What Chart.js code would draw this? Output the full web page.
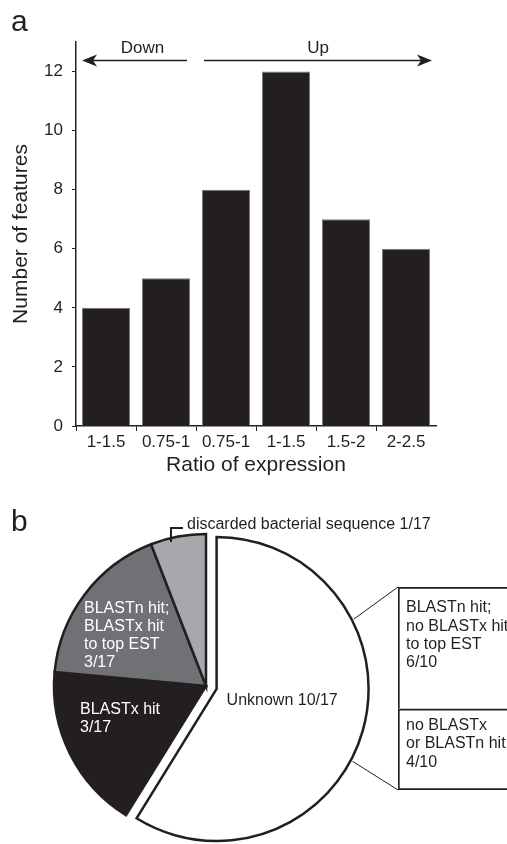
<!DOCTYPE html>
<html>
<head>
<meta charset="utf-8">
<script src="https://cdn.jsdelivr.net/npm/chart.js@4.4.1/dist/chart.umd.min.js"></script>
<style>
  html, body { margin: 0; padding: 0; background: #fff; overflow: hidden; }
  body { width: 507px; height: 844px; position: relative; }
  canvas { position: absolute; }
  #barChart { left: 0; top: 0; }
  #pieChart { left: 0; top: 480px; }
  #splitChart { left: 380px; top: 560px; }
</style>
</head>
<body>
<canvas id="barChart" width="507" height="480"></canvas>
<canvas id="pieChart" width="507" height="364"></canvas>
<canvas id="splitChart" width="200" height="260"></canvas>
<script>
// panel a
const ratioLabels = ['1-1.5', '0.75-1', '0.75-1', '1-1.5', '1.5-2', '2-2.5'];
const featureCounts = [4, 5, 8, 12, 7, 6];
const yTicks = [0, 2, 4, 6, 8, 10, 12];
const directions = ['Down', 'Up'];

// panel b
const pieLabelLines = [['Unknown'], ['BLASTx hit'], ['BLASTn hit;', 'BLASTx hit', 'to top EST'], ['discarded bacterial sequence']];
const pieValues = [10, 3, 3, 1];
const unknownLabelLines = [['BLASTn hit;', 'no BLASTx hit', 'to top EST'], ['no BLASTx', 'or BLASTn hit']];
const unknownValues = [6, 4];

const ink = '#231f20';
const family = '"Liberation Sans", Arial, Helvetica, sans-serif';
Chart.defaults.font.family = family;
Chart.defaults.color = ink;
Chart.defaults.animation = false;

function drawArrow(ctx, tail, tip, y) {
    const dir = tip > tail ? 1 : -1;
    ctx.save();
    ctx.strokeStyle = ink;
    ctx.fillStyle = ink;
    ctx.lineWidth = 1.5;
    ctx.beginPath();
    ctx.moveTo(tail, y);
    ctx.lineTo(tip - dir * 10, y);
    ctx.stroke();
    ctx.beginPath();
    ctx.moveTo(tip, y);
    ctx.lineTo(tip - dir * 15, y - 6);
    ctx.lineTo(tip - dir * 11, y);
    ctx.lineTo(tip - dir * 15, y + 6);
    ctx.closePath();
    ctx.fill();
    ctx.restore();
}

const arrowPlugin = {
    id: 'arrows',
    afterDraw(chart) {
        const ctx = chart.ctx;
        const bars = chart.getDatasetMeta(0).data;
        const left = b => b.x - b.width / 2;
        const right = b => b.x + b.width / 2;
        const y = 60.5;
        const downTip = left(bars[0]);
        const downTail = right(bars[1]) - 3;
        const upTail = left(bars[2]) + 2;
        const upTip = right(bars[5]) + 2;
        drawArrow(ctx, downTail, downTip, y);
        drawArrow(ctx, upTail, upTip, y);

        ctx.save();
        ctx.fillStyle = ink;
        ctx.font = '17px ' + family;
        ctx.textAlign = 'center';
        ctx.textBaseline = 'alphabetic';
        ctx.fillText(directions[0], (downTip + downTail) / 2 + 8, 52.5);
        ctx.fillText(directions[1], (upTail + upTip) / 2, 52.5);
        ctx.font = '30px ' + family;
        ctx.textAlign = 'left';
        ctx.fillText('a', 11, 31);
        ctx.restore();
    }
};

new Chart(document.getElementById('barChart'), {
    type: 'bar',
    data: {
        labels: ratioLabels,
        datasets: [{
            data: featureCounts,
            backgroundColor: ink,
            borderColor: '#7a7a7a',
            borderWidth: 1,
            borderSkipped: 'bottom',
            barPercentage: 0.8,
            categoryPercentage: 1
        }]
    },
    options: {
        responsive: false,
        layout: { padding: { top: 42, right: 71, left: 0, bottom: 0 } },
        plugins: { legend: { display: false }, tooltip: { enabled: false } },
        scales: {
            x: {
                afterFit: s => { s.height = 54; },
                grid: { drawOnChartArea: false, tickLength: 5, color: c => c.tick ? ink : 'rgba(0,0,0,0)' },
                border: { color: ink, width: 1.5 },
                ticks: { font: { size: 17 }, padding: 1, color: ink, maxRotation: 0 },
                title: { display: true, text: 'Ratio of expression', font: { size: 21 }, padding: { top: 0, bottom: 2 }, color: ink }
            },
            y: {
                min: 0,
                max: 13,
                afterFit: s => { s.width = 76; },
                afterBuildTicks: s => { s.ticks = yTicks.map(v => ({ value: v })); },
                grid: { drawOnChartArea: false, tickLength: 4, color: ink },
                border: { color: ink, width: 1.5 },
                ticks: { font: { size: 17 }, padding: 9, color: ink },
                title: { display: true, text: 'Number of features', font: { size: 21 }, padding: { top: 9, bottom: 0 }, color: ink }
            }
        }
    },
    plugins: [arrowPlugin]
});

// breakdown of the Unknown slice, drawn as one stacked bar
const splitTextPlugin = {
    id: 'splitText',
    afterDraw(chart) {
        const ctx = chart.ctx;
        const firstLine = [21, 17];
        ctx.save();
        ctx.fillStyle = ink;
        ctx.font = '16px ' + family;
        ctx.textAlign = 'left';
        ctx.textBaseline = 'middle';
        unknownValues.forEach((v, i) => {
            // dataset 1 is the top segment (first value)
            const el = chart.getDatasetMeta(i === 0 ? 1 : 0).data[0];
            const x = el.x - el.width / 2 + 8;
            const lines = unknownLabelLines[i].concat([v + '/' + unknownValues.reduce((a, b) => a + b, 0)]);
            lines.forEach((t, k) => ctx.fillText(t, x, el.y + firstLine[i] + k * 18.2));
        });
        ctx.restore();
    }
};

const splitChart = new Chart(document.getElementById('splitChart'), {
    type: 'bar',
    data: {
        labels: ['Unknown'],
        datasets: [
            { data: [unknownValues[1]], backgroundColor: '#fff', borderColor: ink, borderWidth: 2, borderSkipped: false },
            { data: [unknownValues[0]], backgroundColor: '#fff', borderColor: ink, borderWidth: { top: 2, left: 2, right: 2, bottom: 0 }, borderSkipped: false }
        ]
    },
    options: {
        responsive: false,
        layout: { padding: { left: 18, right: 0, top: 27, bottom: 30 } },
        plugins: { legend: { display: false }, tooltip: { enabled: false } },
        datasets: { bar: { barPercentage: 1, categoryPercentage: 1 } },
        scales: {
            x: { display: false, stacked: true },
            y: { display: false, stacked: true, min: 0, max: 10 }
        }
    },
    plugins: [splitTextPlugin]
});

const pieTotal = pieValues.reduce((a, b) => a + b, 0);
const explode = 11;
const pieTextColors = [ink, '#fff', '#fff', ink];
const fractionSameLine = [true, false, false, true];
const labelOffsets = [[10, 12], [-126, 24], [-122, -77], [-19, -161]];

const piePlugin = {
    id: 'pieExtras',
    afterDatasetsUpdate(chart) {
        const arc = chart.getDatasetMeta(0).data[0];
        const mid = (arc.startAngle + arc.endAngle) / 2;
        arc.x += Math.cos(mid) * explode;
        arc.y += Math.sin(mid) * explode;
    },
    afterDraw(chart) {
        const ctx = chart.ctx;
        const arcs = chart.getDatasetMeta(0).data;
        const cx = arcs[1].x, cy = arcs[1].y;
        ctx.save();
        ctx.font = '16px ' + family;
        ctx.textAlign = 'left';
        ctx.textBaseline = 'middle';
        arcs.forEach((arc, i) => {
            const frac = pieValues[i] + '/' + pieTotal;
            let lines = pieLabelLines[i].slice();
            if (fractionSameLine[i]) lines[lines.length - 1] += ' ' + frac;
            else lines.push(frac);
            const ox = i === 0 ? arc.x : cx;
            const oy = i === 0 ? arc.y : cy;
            ctx.fillStyle = pieTextColors[i];
            lines.forEach((t, k) => ctx.fillText(t, ox + labelOffsets[i][0], oy + labelOffsets[i][1] + k * 17.7));
        });

        // bracket for the small slice
        ctx.strokeStyle = ink;
        ctx.lineWidth = 2;
        ctx.beginPath();
        ctx.moveTo(cx - 35, cy - 144);
        ctx.lineTo(cx - 35, cy - 158);
        ctx.lineTo(cx - 23, cy - 158);
        ctx.stroke();

        // connectors to the breakdown bar
        const me = chart.canvas.getBoundingClientRect();
        const other = splitChart.canvas.getBoundingClientRect();
        const dx = other.left - me.left, dy = other.top - me.top;
        const top = splitChart.getDatasetMeta(1).data[0];
        const bottom = splitChart.getDatasetMeta(0).data[0];
        const u = arcs[0];
        const r = u.outerRadius + 2;
        const a1 = -27 * Math.PI / 180, a2 = 28 * Math.PI / 180;
        ctx.lineWidth = 1;
        ctx.beginPath();
        ctx.moveTo(u.x + Math.cos(a1) * r, u.y + Math.sin(a1) * r);
        ctx.lineTo(dx + top.x - top.width / 2, dy + top.y);
        ctx.moveTo(u.x + Math.cos(a2) * r, u.y + Math.sin(a2) * r);
        ctx.lineTo(dx + bottom.x - bottom.width / 2, dy + bottom.base);
        ctx.stroke();

        ctx.fillStyle = ink;
        ctx.font = '30px ' + family;
        ctx.textBaseline = 'alphabetic';
        ctx.fillText('b', 11, 51);
        ctx.restore();
    }
};

new Chart(document.getElementById('pieChart'), {
    type: 'pie',
    data: {
        labels: pieLabelLines.map(l => l.join(' ')),
        datasets: [{
            data: pieValues,
            backgroundColor: ['#ffffff', ink, '#707175', '#a6a8ab'],
            borderColor: ink,
            borderWidth: 2.5,
            borderJoinStyle: 'miter'
        }]
    },
    options: {
        responsive: false,
        radius: 152,
        layout: { padding: { left: 50, right: 145, top: 50, bottom: 2 } },
        plugins: { legend: { display: false }, tooltip: { enabled: false } }
    },
    plugins: [piePlugin]
});
</script>
</body>
</html>
